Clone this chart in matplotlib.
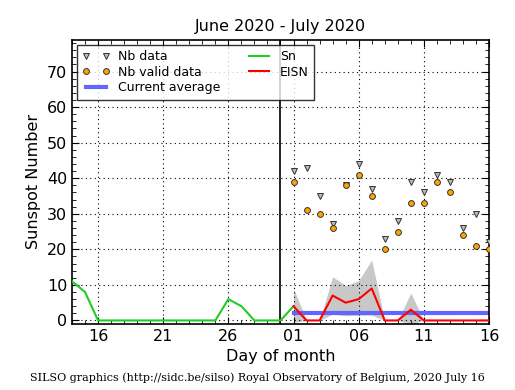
import matplotlib
matplotlib.use("Agg")
import matplotlib.pyplot as plt
from matplotlib.ticker import MultipleLocator, FixedLocator
import numpy as np

# Day index: 0 = 14 June 2020 ... 32 = 16 July 2020
sn_days = list(range(0, 18))
sn_values = [11, 8, 0, 0, 0, 0, 0, 0, 0, 0, 0, 0, 6, 4, 0, 0, 0, 4]

eisn_days = list(range(17, 33))
eisn_values = [4, 0, 0, 7, 5, 6, 9, 0, 0, 3, 0, 0, 0, 0, 0, 0]
eisn_upper = [9, 0, 0, 12.3, 9.8, 11.2, 17, 0, 0, 7.7, 0, 0, 0, 0, 0, 0]
eisn_lower = [-0.5, 0, 0, 1.8, 1.3, 1.5, 1.5, 0, 0, -1, 0, 0, 0, 0, 0, 0]

nb_data = [42, 43, 35, 27, 38, 44, 37, 23, 28, 39, 36, 41, 39, 26, 30, 22]
nb_valid = [39, 31, 30, 26, 38, 41, 35, 20, 25, 33, 33, 39, 36, 24, 21, 20]

current_average = 2.0
month_boundary = 16

tick_positions = [2, 7, 12, 17, 22, 27, 32]
tick_labels = ["16", "21", "26", "01", "06", "11", "16"]

fig = plt.figure(figsize=(5.15, 3.9), dpi=100)
ax = fig.add_axes([0.1398, 0.1692, 0.8097, 0.7295])

ax.fill_between(eisn_days, eisn_lower, eisn_upper, color="#c8c8c8", linewidth=0, zorder=1)
ax.plot(sn_days, sn_values, color="#22cc22", linewidth=1.5, label="Sn", zorder=3)
ax.plot([eisn_days[0], eisn_days[-1]], [current_average, current_average],
        color="#6464ff", linewidth=3, label="Current average", zorder=2)
ax.plot(eisn_days, eisn_values, color="red", linewidth=1.5, label="EISN", zorder=4)
ax.plot(eisn_days, nb_data, linestyle="none", marker="v", markersize=3.8,
        markerfacecolor="#bbbbbb", markeredgecolor="#333333", markeredgewidth=0.7,
        label="Nb data", zorder=5)
ax.plot(eisn_days, nb_valid, linestyle="none", marker="o", markersize=4.2,
        markerfacecolor="orange", markeredgecolor="#333333", markeredgewidth=0.7,
        label="Nb valid data", zorder=6)
ax.axvline(month_boundary, color="black", linewidth=1.2, zorder=2)

ax.set_xlim(0, 32)
ax.set_ylim(-1, 79)
ax.xaxis.set_major_locator(FixedLocator(tick_positions))
ax.set_xticklabels(tick_labels)
ax.xaxis.set_minor_locator(MultipleLocator(1))
ax.yaxis.set_major_locator(MultipleLocator(10))
ax.yaxis.set_minor_locator(MultipleLocator(2))
ax.tick_params(which="both", direction="in", top=True, right=True, labelsize=11.5)
ax.tick_params(which="major", length=5)
ax.tick_params(which="minor", length=3)
ax.grid(True, which="major", color="black", linestyle=(0, (1, 3)), linewidth=0.8)
for s in ax.spines.values():
    s.set_linewidth(1.2)

ax.set_title("June 2020 - July 2020", fontsize=11.5)
ax.set_xlabel("Day of month", fontsize=11.5)
ax.set_ylabel("Sunspot Number", fontsize=11.5)

handles, labels = ax.get_legend_handles_labels()
order = ["Nb data", "Nb valid data", "Current average", "Sn", "EISN"]
hmap = dict(zip(labels, handles))
leg = ax.legend([hmap[k] for k in order], order, loc="upper left", ncol=2,
                fontsize=9, numpoints=2, frameon=True, fancybox=False,
                edgecolor="black", borderaxespad=0.4, handlelength=2.2,
                labelspacing=0.2, columnspacing=2.0, handletextpad=0.6,
                borderpad=0.45)
leg.get_frame().set_linewidth(1.0)
leg.set_zorder(10)

fig.text(0.5, 0.018, "SILSO graphics (http://sidc.be/silso) Royal Observatory of Belgium, 2020 July 16",
         ha="center", va="bottom", fontsize=8, family="DejaVu Serif")

fig.savefig("out.png", dpi=100)
